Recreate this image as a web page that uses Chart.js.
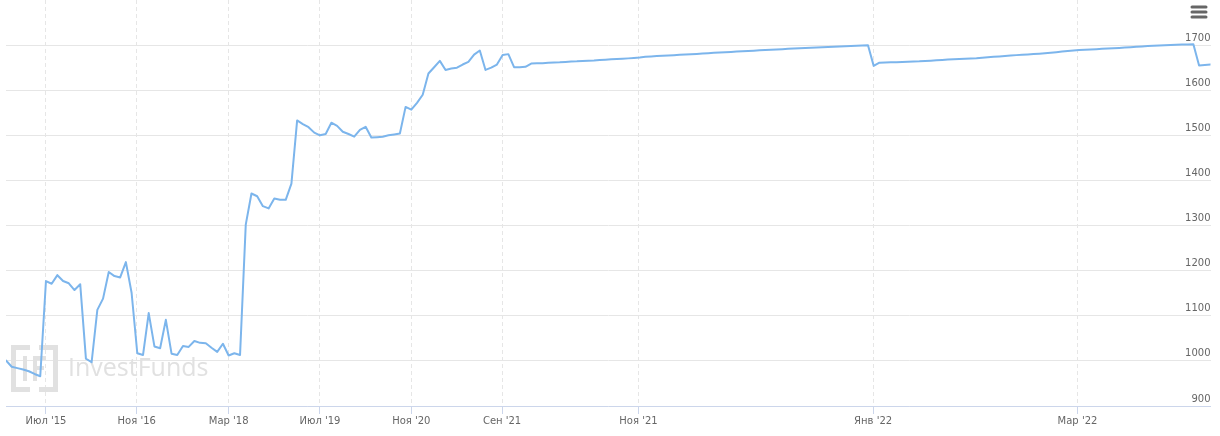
<!DOCTYPE html>
<html lang="ru">
<head>
    <meta charset="UTF-8">
    <title>InvestFunds - стоимость пая</title>
    <script src="https://cdn.jsdelivr.net/npm/chart.js@4"></script>
    <style>
        body {
            margin: 0;
            padding: 0;
            background: #ffffff;
        }
        .chart-box {
            position: relative;
            width: 1220px;
            height: 436px;
        }
    </style>
</head>
<body>
    <div class="chart-box">
        <canvas id="navChart"></canvas>
    </div>

    <script>
        // Values, one per point (ordinal axis, points evenly spaced)
        // 2014-12 .. 2018-05
        const navEarly = [
            1001, 987, 984, 981, 977, 971, 966, 1177, 1171, 1190,
            1177, 1172, 1157, 1170, 1005, 997, 1113, 1138, 1197, 1188,
            1185, 1219, 1151, 1017, 1013, 1106, 1032, 1028, 1091, 1016,
            1013, 1033, 1031, 1044, 1040, 1039, 1029, 1020, 1038, 1012,
            1017, 1013
        ];
        // 2018-06 .. 2021-09
        const navMid = [
            1302, 1371, 1365, 1343, 1338, 1360, 1357, 1357, 1393, 1533,
            1525, 1518, 1506, 1500, 1503, 1528, 1521, 1508, 1503, 1497,
            1512, 1519, 1495, 1496, 1497, 1500, 1502, 1504, 1563, 1557,
            1572, 1590, 1637, 1651, 1665, 1645, 1648, 1650, 1657, 1663,
            1679, 1688, 1645, 1650, 1657, 1678, 1680, 1651, 1651, 1652,
            1659
        ];
        // 2021-09 .. 2022-01 (dense quotes)
        const navLate2021 = [
            1659.6, 1660, 1660.8, 1661.5, 1662, 1662.8, 1663.5, 1664, 1664.8, 1665.5,
            1666, 1667, 1667.6, 1668.4, 1669, 1669.8, 1670.6, 1671.5, 1672.5, 1674,
            1675, 1675.6, 1676.3, 1677, 1677.6, 1678.4, 1679, 1679.8, 1680.5, 1681.2,
            1682, 1682.8, 1683.5, 1684.2, 1685, 1685.6, 1686.3, 1687, 1687.7, 1688.4,
            1689, 1689.6, 1690.4, 1691, 1691.7, 1692.4, 1693, 1693.5, 1694, 1694.6,
            1695.2, 1695.7, 1696.2, 1696.8, 1697.4, 1698, 1698.6, 1699.2, 1699.8
        ];
        // 2022-01 .. end
        const navLate2022 = [
            1654, 1661, 1661.4, 1661.8, 1662.2, 1662.6, 1663, 1663.5, 1664, 1664.8,
            1665.6, 1666.4, 1667.2, 1668, 1668.6, 1669.2, 1669.8, 1670.4, 1671, 1672,
            1673, 1674, 1675, 1676, 1677, 1677.8, 1678.6, 1679.4, 1680.2, 1681,
            1682, 1683.2, 1684.4, 1685.6, 1686.8, 1688, 1689, 1689.6, 1690.3, 1691,
            1691.7, 1692.4, 1693, 1693.8, 1694.6, 1695.4, 1696.2, 1697, 1698, 1698.6,
            1699.2, 1699.8, 1700.3, 1700.7, 1701.1, 1701.5, 1702, 1655, 1656, 1657
        ];

        // x-axis ticks: point index where each month label sits
        const tickPositions = [7, 22.9, 39, 55, 71, 86.9, 110.8, 151.9, 187.7];
        const tickLabels = ["Июл '15", "Ноя '16", "Мар '18", "Июл '19", "Ноя '20", "Сен '21", "Ноя '21", "Янв '22", "Мар '22"];

        const navValues = navEarly.concat(navMid, navLate2021, navLate2022);
        const points = navValues.map((v, i) => ({ x: i, y: v }));

        const FONT = "'DejaVu Sans', Verdana, sans-serif";

        // watermark logo + text in the lower left corner
        const watermark = {
            id: 'watermark',
            beforeDatasetsDraw(chart) {
                const ctx = chart.ctx;
                ctx.save();
                ctx.strokeStyle = '#e1e1e1';
                ctx.lineWidth = 5;
                ctx.lineCap = 'butt';
                // bracket-style frame
                ctx.beginPath();
                ctx.moveTo(30, 347.5); ctx.lineTo(13.5, 347.5); ctx.lineTo(13.5, 389.5); ctx.lineTo(30, 389.5);
                ctx.moveTo(39, 347.5); ctx.lineTo(55.5, 347.5); ctx.lineTo(55.5, 389.5); ctx.lineTo(39, 389.5);
                ctx.stroke();
                // inner "IF"
                ctx.lineWidth = 4;
                ctx.beginPath();
                ctx.moveTo(25, 356); ctx.lineTo(25, 381);
                ctx.moveTo(35, 356); ctx.lineTo(35, 381);
                ctx.moveTo(35, 358); ctx.lineTo(46, 358);
                ctx.moveTo(35, 368); ctx.lineTo(44, 368);
                ctx.stroke();
                ctx.fillStyle = '#e1e1e1';
                ctx.font = "25px 'Open Sans', sans-serif";
                ctx.textBaseline = 'middle';
                ctx.fillText('InvestFunds', 68, 369);
                ctx.restore();
            }
        };

        // export menu icon at top right
        const menuIcon = {
            id: 'menuIcon',
            afterDraw(chart) {
                const ctx = chart.ctx;
                ctx.save();
                ctx.strokeStyle = '#666666';
                ctx.lineWidth = 3;
                ctx.lineCap = 'round';
                ctx.beginPath();
                [7, 12, 17].forEach(y => {
                    ctx.moveTo(1192, y);
                    ctx.lineTo(1206, y);
                });
                ctx.stroke();
                ctx.restore();
            }
        };

        new Chart(document.getElementById('navChart'), {
            type: 'line',
            data: {
                datasets: [{
                    data: points,
                    borderColor: '#7cb5ec',
                    borderWidth: 2,
                    pointRadius: 0,
                    pointHoverRadius: 0,
                    tension: 0,
                    borderJoinStyle: 'round',
                    borderCapStyle: 'round',
                    fill: false
                }]
            },
            options: {
                responsive: true,
                maintainAspectRatio: false,
                animation: false,
                layout: {
                    padding: { left: 6, right: 9.5, top: 0, bottom: 8 }
                },
                plugins: {
                    legend: { display: false },
                    tooltip: { enabled: false }
                },
                scales: {
                    x: {
                        type: 'linear',
                        min: 0,
                        max: navValues.length - 1,
                        afterBuildTicks: scale => {
                            scale.ticks = tickPositions.map(v => ({ value: v }));
                        },
                        ticks: {
                            autoSkip: false,
                            maxRotation: 0,
                            padding: 1,
                            color: '#666666',
                            font: { family: FONT, size: 10 },
                            callback: (value, index) => tickLabels[index]
                        },
                        grid: {
                            color: '#e6e6e6',
                            tickColor: '#ccd6eb',
                            tickLength: 8,
                            tickBorderDash: []
                        },
                        border: {
                            color: '#ccd6eb',
                            dash: [4, 3]
                        }
                    },
                    y: {
                        position: 'right',
                        min: 900,
                        max: 1800,
                        afterBuildTicks: scale => {
                            scale.ticks = scale.ticks.filter(t => t.value < 1800);
                        },
                        // labels sit inside the plot, so no extra room above/below
                        afterFit: scale => {
                            scale.paddingTop = 0;
                            scale.paddingBottom = 0;
                        },
                        ticks: {
                            stepSize: 100,
                            mirror: true,
                            padding: 0,
                            labelOffset: -7,
                            color: '#666666',
                            font: { family: FONT, size: 10 },
                            callback: value => String(value)
                        },
                        grid: {
                            color: '#e6e6e6',
                            drawTicks: false
                        },
                        border: { display: false }
                    }
                }
            },
            plugins: [watermark, menuIcon]
        });
    </script>
</body>
</html>
